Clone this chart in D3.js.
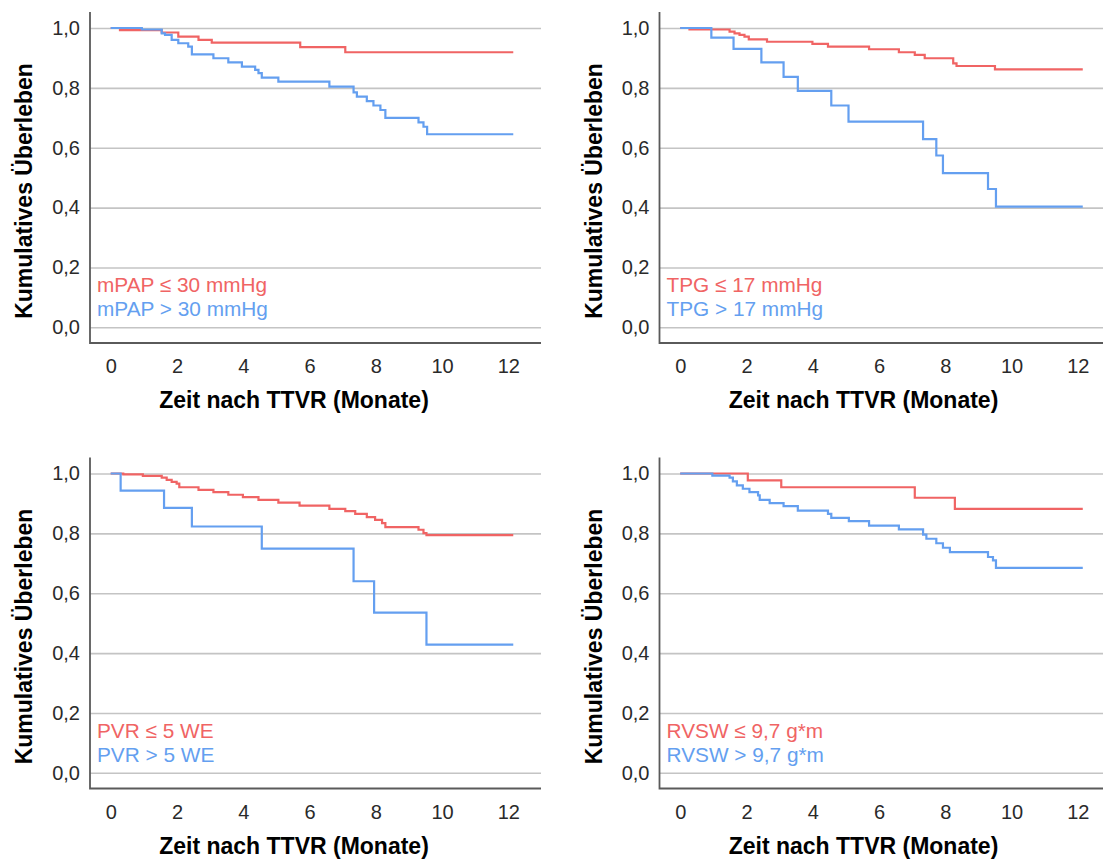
<!DOCTYPE html>
<html>
<head>
<meta charset="utf-8">
<script src="https://cdn.jsdelivr.net/npm/d3@7"></script>
<style>
  html, body { margin: 0; padding: 0; background: #ffffff; }
  svg { display: block; font-family: "Liberation Sans", Arial, sans-serif; }
</style>
</head>
<body>
<svg id="chart" width="1103" height="861"></svg>
<script>
// Kaplan-Meier survival after TTVR, split by haemodynamic cut-offs.
// Each curve: event times (months) and survival estimate after that event.

const xTicks = [0, 2, 4, 6, 8, 10, 12];
const yTicks = [0, 0.2, 0.4, 0.6, 0.8, 1.0];
const yTickLabels = ["0,0", "0,2", "0,4", "0,6", "0,8", "1,0"];
const followUpEnd = 12.15;

// mPAP
const mpapLowTimes = [0.28, 1.54, 2.04, 2.65, 3.05, 5.72, 7.08];
const mpapLowSurv  = [0.993, 0.985, 0.971, 0.960, 0.951, 0.936, 0.919];
const mpapHighTimes = [0.94, 1.54, 1.64, 1.84, 2.04, 2.34, 2.45, 3.10, 3.55, 3.96, 4.36, 4.46, 4.56, 5.06, 6.60, 7.33, 7.43, 7.73, 7.93, 8.14, 8.29, 9.29, 9.44, 9.55];
const mpapHighSurv  = [0.995, 0.982, 0.977, 0.960, 0.949, 0.938, 0.912, 0.899, 0.885, 0.871, 0.860, 0.849, 0.834, 0.821, 0.804, 0.785, 0.771, 0.756, 0.741, 0.726, 0.700, 0.685, 0.670, 0.645];

// TPG
const tpgLowTimes = [0.28, 1.49, 1.64, 1.79, 1.94, 2.07, 2.62, 3.99, 4.46, 5.70, 6.60, 7.08, 7.38, 8.24, 8.34, 9.50];
const tpgLowSurv  = [0.995, 0.988, 0.982, 0.977, 0.971, 0.962, 0.954, 0.947, 0.938, 0.929, 0.919, 0.910, 0.899, 0.882, 0.873, 0.862];
const tpgHighTimes = [0.94, 1.61, 2.45, 3.12, 3.55, 4.56, 5.08, 7.33, 7.73, 7.93, 9.29, 9.53];
const tpgHighSurv  = [0.968, 0.930, 0.885, 0.837, 0.790, 0.741, 0.687, 0.629, 0.574, 0.515, 0.462, 0.403];

// PVR
const pvrLowTimes = [0.38, 0.97, 1.54, 1.69, 1.84, 1.99, 2.07, 2.65, 3.10, 3.55, 3.99, 4.46, 5.06, 5.70, 6.60, 7.08, 7.38, 7.73, 7.98, 8.19, 8.29, 9.29, 9.44, 9.53];
const pvrLowSurv  = [0.997, 0.992, 0.986, 0.979, 0.972, 0.966, 0.954, 0.945, 0.938, 0.929, 0.921, 0.912, 0.903, 0.893, 0.882, 0.874, 0.865, 0.854, 0.845, 0.834, 0.821, 0.812, 0.801, 0.794];
const pvrHighTimes = [0.30, 1.61, 2.45, 4.56, 7.33, 7.95, 9.53];
const pvrHighSurv  = [0.943, 0.885, 0.823, 0.749, 0.640, 0.535, 0.428];

// RVSW
const rvswLowTimes = [2.04, 3.05, 7.08, 8.29];
const rvswLowSurv  = [0.977, 0.954, 0.919, 0.882];
const rvswHighTimes = [0.97, 1.49, 1.59, 1.71, 1.89, 2.09, 2.35, 2.40, 2.70, 3.12, 3.55, 4.46, 4.56, 5.09, 5.70, 6.60, 7.33, 7.43, 7.73, 7.93, 8.14, 9.29, 9.44, 9.53];
const rvswHighSurv  = [0.993, 0.986, 0.974, 0.960, 0.949, 0.938, 0.927, 0.912, 0.901, 0.891, 0.876, 0.865, 0.852, 0.841, 0.826, 0.813, 0.796, 0.782, 0.767, 0.752, 0.737, 0.721, 0.710, 0.685];

const groupLabels = [
  ["mPAP \u2264 30 mmHg", "mPAP > 30 mmHg"],
  ["TPG \u2264 17 mmHg", "TPG > 17 mmHg"],
  ["PVR \u2264 5 WE", "PVR > 5 WE"],
  ["RVSW \u2264 9,7 g*m", "RVSW > 9,7 g*m"]
];
const xTitle = "Zeit nach TTVR (Monate)";
const yTitle = "Kumulatives \u00dcberleben";

const panels = [
  { x: 90,    y: 0,     low: [mpapLowTimes, mpapLowSurv], high: [mpapHighTimes, mpapHighSurv], labels: groupLabels[0] },
  { x: 659.5, y: 0,     low: [tpgLowTimes, tpgLowSurv],   high: [tpgHighTimes, tpgHighSurv],   labels: groupLabels[1] },
  { x: 90,    y: 445.5, low: [pvrLowTimes, pvrLowSurv],   high: [pvrHighTimes, pvrHighSurv],   labels: groupLabels[2] },
  { x: 659.5, y: 445.5, low: [rvswLowTimes, rvswLowSurv], high: [rvswHighTimes, rvswHighSurv], labels: groupLabels[3] }
];

const RED = "#f06464";
const BLUE = "#649ff0";
const plotW = 451;
const axisTop = 12;
const axisBottom = 343;

const x = d3.scaleLinear().domain([0, 12]).range([20.7, 418.3]);
const y = d3.scaleLinear().domain([0, 1]).range([327.3, 28]);

const line = d3.line()
  .x(d => x(d[0]))
  .y(d => y(d[1]))
  .curve(d3.curveStepAfter);

function stepPoints(times, surv) {
  const pts = [[0, 1]];
  times.forEach((t, i) => pts.push([t, surv[i]]));
  pts.push([followUpEnd, surv[surv.length - 1]]);
  return pts;
}

const svg = d3.select("#chart");

panels.forEach(p => {
  const g = svg.append("g").attr("transform", `translate(${p.x},${p.y})`);

  // horizontal gridlines + y tick labels
  const yAxis = d3.axisLeft(y)
    .tickValues(yTicks)
    .tickSize(-plotW)
    .tickPadding(10)
    .tickFormat((d, i) => yTickLabels[i]);
  const ya = g.append("g").call(yAxis);
  ya.select(".domain").remove();
  ya.selectAll(".tick line").attr("stroke", "#c4c4c4").attr("stroke-width", 1.6);
  ya.selectAll(".tick text").attr("fill", "#2a2a2a").style("font-size", "20px");

  // x tick labels
  const xAxis = d3.axisBottom(x)
    .tickValues(xTicks)
    .tickSize(0)
    .tickPadding(16)
    .tickFormat(d => String(d));
  const xa = g.append("g").attr("transform", `translate(0,${axisBottom})`).call(xAxis);
  xa.select(".domain").remove();
  xa.selectAll(".tick text").attr("fill", "#2a2a2a").style("font-size", "20px");

  // axis frame (left + bottom)
  g.append("path")
    .attr("d", `M0,${axisTop}V${axisBottom}H${plotW}`)
    .attr("fill", "none")
    .attr("stroke", "#5a5a5a")
    .attr("stroke-width", 1.8);

  // survival curves
  g.append("path")
    .attr("d", line(stepPoints(p.low[0], p.low[1])))
    .attr("fill", "none")
    .attr("stroke", RED)
    .attr("stroke-width", 2.2);
  g.append("path")
    .attr("d", line(stepPoints(p.high[0], p.high[1])))
    .attr("fill", "none")
    .attr("stroke", BLUE)
    .attr("stroke-width", 2.2);

  // group labels
  g.append("text")
    .attr("x", 7).attr("y", 292)
    .attr("fill", RED)
    .style("font-size", "20.8px")
    .text(p.labels[0]);
  g.append("text")
    .attr("x", 7).attr("y", 316)
    .attr("fill", BLUE)
    .style("font-size", "20.8px")
    .text(p.labels[1]);

  // axis titles
  g.append("text")
    .attr("x", 204).attr("y", 408)
    .attr("text-anchor", "middle")
    .attr("fill", "#000")
    .style("font-size", "23px")
    .style("font-weight", "bold")
    .text(xTitle);
  g.append("text")
    .attr("transform", "translate(-58,191) rotate(-90)")
    .attr("text-anchor", "middle")
    .attr("fill", "#000")
    .style("font-size", "23px")
    .style("font-weight", "bold")
    .text(yTitle);
});
</script>
</body>
</html>
